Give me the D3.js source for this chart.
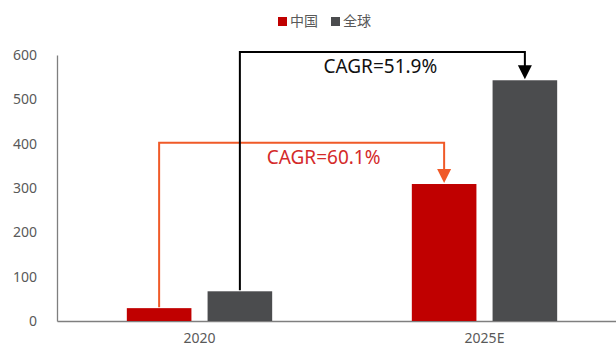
<!DOCTYPE html>
<html>
<head>
<meta charset="utf-8">
<script src="https://cdn.jsdelivr.net/npm/d3@7"></script>
<style>
  body { margin: 0; background: #fff; }
  svg text { font-family: 'Noto Sans', 'Noto Sans CJK SC', sans-serif; }
</style>
</head>
<body>
<div></div>
<script>
const categories = ['2020', '2025E'];
const seriesNames = ['中国', '全球'];
const chinaValues = [29, 309];
const globalValues = [67, 543];
const cagrLabels = ['CAGR=60.1%', 'CAGR=51.9%'];
const connectorLevels = [402, 607];
const yTicks = [0, 100, 200, 300, 400, 500, 600];

const w = 616;
const h = 349;
const colors = ['#C00000', '#4B4C4E'];
const lineColors = ['#F05A28', '#000000'];
const textColors = ['#D42A2A', '#111111'];
const labelShift = [22, -2];

const svg = d3
  .select('body')
  .select('div')
  .append('svg')
  .attr('width', w)
  .attr('height', h);

const y = d3.scaleLinear().domain([0, 600]).range([321, 55]);

const x0 = d3
  .scaleBand()
  .domain(categories)
  .range([57, 627])
  .paddingInner(0.49)
  .paddingOuter(0.245);

const x1 = d3
  .scaleBand()
  .domain(seriesNames)
  .range([0, x0.bandwidth()])
  .paddingInner(0.2);

const series = [chinaValues, globalValues];

// y axis
const yAxis = d3.axisLeft(y).tickValues(yTicks).tickSize(0).tickPadding(20);
const yg = svg.append('g').attr('transform', 'translate(57,0)').call(yAxis);
yg.select('.domain').attr('stroke', '#7F7F7F').attr('stroke-width', 1.3);
yg.selectAll('text').attr('fill', '#595959').style('font-size', '14px');

// x axis
const xAxis = d3.axisBottom(x0).tickSize(0).tickPadding(12);
const xg = svg.append('g').attr('transform', 'translate(0,321)').call(xAxis);
xg.select('.domain').attr('stroke', '#7F7F7F').attr('stroke-width', 1.3);
xg.selectAll('text').attr('fill', '#595959').style('font-size', '14px');

// bars
seriesNames.forEach((name, si) => {
  svg
    .append('g')
    .selectAll('rect')
    .data(series[si])
    .enter()
    .append('rect')
    .attr('x', (d, i) => x0(categories[i]) + x1(name))
    .attr('y', (d) => y(d))
    .attr('width', x1.bandwidth())
    .attr('height', (d) => y(0) - y(d))
    .style('fill', colors[si]);
});

// CAGR connectors
seriesNames.forEach((name, si) => {
  const xa = x0(categories[0]) + x1(name) + x1.bandwidth() / 2;
  const xb = x0(categories[1]) + x1(name) + x1.bandwidth() / 2;
  const ya = y(series[si][0]);
  const yb = y(series[si][1]);
  const yc = y(connectorLevels[si]);

  svg
    .append('path')
    .attr('d', `M${xa},${ya - 1}V${yc}H${xb}V${yb - 14}`)
    .attr('fill', 'none')
    .attr('stroke', lineColors[si])
    .attr('stroke-width', 2);

  svg
    .append('path')
    .attr('d', `M${xb - 7},${yb - 15}L${xb + 7},${yb - 15}L${xb},${yb - 1}Z`)
    .attr('fill', lineColors[si]);

  svg
    .append('text')
    .attr('x', (xa + xb) / 2 + labelShift[si])
    .attr('y', yc + 21)
    .attr('text-anchor', 'middle')
    .attr('fill', textColors[si])
    .style('font-size', '19px')
    .text(cagrLabels[si]);
});

// legend
const legend = svg.append('g').attr('transform', 'translate(278,14)');
const legendX = [0, 53];
seriesNames.forEach((name, si) => {
  legend
    .append('rect')
    .attr('x', legendX[si])
    .attr('y', 3)
    .attr('width', 9)
    .attr('height', 9)
    .style('fill', colors[si]);
  legend
    .append('text')
    .attr('x', legendX[si] + 12)
    .attr('y', 12)
    .attr('fill', '#595959')
    .style('font-size', '14px')
    .text(name);
});
</script>
</body>
</html>
